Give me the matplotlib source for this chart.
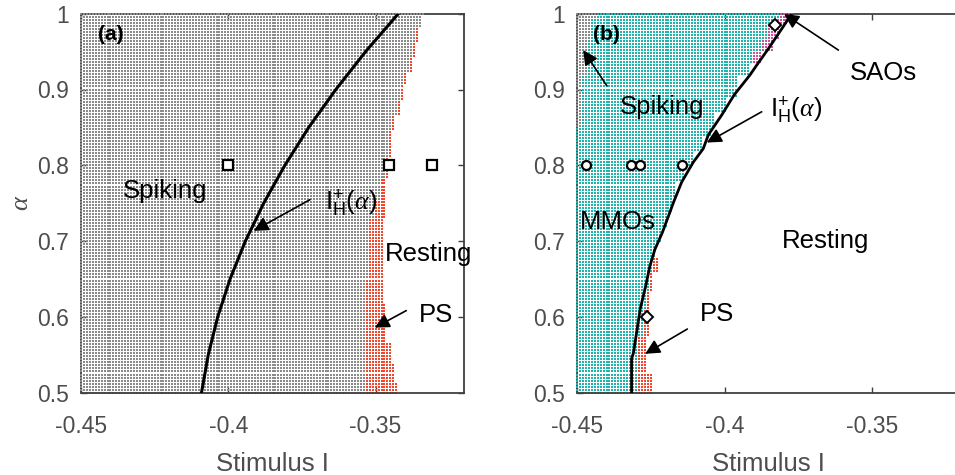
import numpy as np
import matplotlib
matplotlib.use('Agg')
import matplotlib.pyplot as plt

plt.rcParams['font.family'] = ['Liberation Sans', 'DejaVu Sans']
plt.rcParams['mathtext.fontset'] = 'custom'
plt.rcParams['mathtext.rm'] = 'Liberation Sans'
plt.rcParams['mathtext.it'] = 'Liberation Serif:italic'
plt.rcParams['mathtext.bf'] = 'Liberation Sans:bold'

# scan grid of the stimulus / alpha plane
stim_grid = np.round(np.arange(-0.45, -0.3195, 0.001), 4)
alpha_grid = np.linspace(0.5, 1.0, 126)

# panel (a): band lower edge in alpha, last spiking I, last PS I
a_band_alpha = [0.500, 0.515, 0.537, 0.566, 0.619, 0.649, 0.693, 0.729, 0.755, 0.782,
                0.812, 0.846, 0.868, 0.888, 0.908, 0.924, 0.944, 0.964, 0.981, 0.997]
a_spike_end = [-0.3540, -0.3540, -0.3540, -0.3540, -0.3540, -0.3527, -0.3521, -0.3508, -0.3490, -0.3470,
               -0.3455, -0.3442, -0.3428, -0.3415, -0.3401, -0.3389, -0.3375, -0.3362, -0.3348, -0.3336]
a_ps_end = [-0.3426, -0.3439, -0.3450, -0.3462, -0.3474, -0.3474, -0.3471, -0.3465, -0.3467, -0.3453,
            -0.3443, -0.3432, -0.3418, -0.3405, -0.3391, -0.3379, -0.3365, -0.3352, -0.3348, -0.3336]

# Hopf curve I_H^+(alpha), panel (a)
a_hopf_alpha = [0.50, 0.55, 0.60, 0.65, 0.70, 0.75, 0.80, 0.85, 0.90, 0.95, 1.00]
a_hopf_stim = [-0.4091, -0.4068, -0.4036, -0.3994, -0.3942, -0.3880, -0.3808, -0.3727, -0.3635, -0.3534, -0.3423]
a_square_stim = [-0.400, -0.3455, -0.331]
a_square_alpha = [0.8, 0.8, 0.8]

# panel (b): bands with last gray-spiking, MMO, PS and SAO stimulus values
nan = np.nan
b_band_alpha = [0.500, 0.525, 0.550, 0.575, 0.610, 0.636, 0.660, 0.680, 0.700, 0.720, 0.740, 0.760, 0.780,
                0.800, 0.820, 0.840, 0.850, 0.870, 0.890, 0.920, 0.935, 0.950, 0.965, 0.985, 0.995]
b_spike_end = [-0.46] * 16 + [-0.4490, -0.4490, -0.4484, -0.4467, -0.4467, -0.4467, -0.4456, -0.4456, -0.4439]
b_mmo_end = [-0.4292, -0.4292, -0.4292, -0.4280, -0.4269, -0.4260, -0.4241, -0.4236, -0.4211, -0.4195, -0.4180,
             -0.4163, -0.4140, -0.4110, -0.4075, -0.4050, -0.4035, -0.4000, -0.3960, -0.3920, -0.3908, -0.3874,
             -0.3853, -0.3829, -0.3818]
b_ps_end = [-0.4241, -0.4264, -0.4264, -0.4258, -0.4258, -0.4247, -0.4230] + [nan] * 18
b_sao_end = [nan] * 20 + [-0.3874, -0.3840, -0.3819, -0.3784, -0.3761]

b_hopf_alpha = [0.500, 0.545, 0.552, 0.579, 0.610, 0.641, 0.667, 0.689, 0.711, 0.733, 0.751, 0.778, 0.804,
                0.822, 0.840, 0.866, 0.893, 0.919, 0.932, 0.954, 0.980, 1.000]
b_hopf_stim = [-0.4315, -0.4315, -0.4309, -0.4298, -0.4286, -0.4267, -0.4253, -0.4236, -0.4211, -0.4190, -0.4173,
               -0.4145, -0.4106, -0.4072, -0.4055, -0.4010, -0.3967, -0.3914, -0.3891, -0.3851, -0.3806, -0.3772]
b_circle_stim = [-0.447, -0.4317, -0.4285, -0.4143]
b_circle_alpha = [0.8, 0.8, 0.8, 0.8]
b_diamond_stim = [-0.3829, -0.4264]
b_diamond_alpha = [0.985, 0.600]

xticks = [-0.45, -0.4, -0.35]
xtick_labels = ['-0.45', '-0.4', '-0.35']
yticks = [0.5, 0.6, 0.7, 0.8, 0.9, 1.0]
ytick_labels = ['0.5', '0.6', '0.7', '0.8', '0.9', '1']

GRAY = '#8a8a8a'
CYAN = '#1fb3ac'
RED = '#f2452c'
MAG = '#d24d9c'
AXC = '#404040'
LABC = '#4d4d4d'

II, AA = np.meshgrid(stim_grid, alpha_grid)


def band_values(bands, vals):
    k = np.searchsorted(np.array(bands), AA + 1e-9, side='right') - 1
    return np.array(vals, dtype=float)[k]


def dots(ax, mask, color):
    ax.scatter(II[mask], AA[mask], s=3.6, marker='s', c=color, linewidths=0, zorder=3, clip_on=False)


def style(ax):
    ax.set_xlim(-0.45, -0.32)
    ax.set_ylim(0.5, 1.0)
    ax.set_xticks(xticks)
    ax.set_xticklabels(xtick_labels)
    ax.set_yticks(yticks)
    ax.set_yticklabels(ytick_labels)
    ax.tick_params(direction='in', length=4, width=1, colors=AXC, labelcolor=LABC,
                   labelsize=16.5, top=True, right=True)
    ax.tick_params(axis='x', pad=16)
    ax.tick_params(axis='y', pad=9)
    for sp in ax.spines.values():
        sp.set_color(AXC)
        sp.set_linewidth(1.3)
    ax.spines['bottom'].set_zorder(4)
    ax.set_xlabel('Stimulus I', fontsize=18.5, color=LABC, labelpad=10)
    ax.set_facecolor('white')


def arrow(ax, tail, tip):
    ax.annotate('', xy=tip, xytext=tail, zorder=6,
                arrowprops=dict(arrowstyle='-|>', color='black', lw=1.2, mutation_scale=22,
                                shrinkA=0, shrinkB=0))


fig = plt.figure(figsize=(9.55, 4.75), dpi=100)
axa = fig.add_axes([81 / 955, 1 - 392.7 / 475, 383 / 955, 379 / 475])
axb = fig.add_axes([577 / 955, 1 - 392.7 / 475, 383.5 / 955, 379 / 475])

# ---- panel (a)
spk = II <= band_values(a_band_alpha, a_spike_end) + 1e-9
ps = (~spk) & (II <= band_values(a_band_alpha, a_ps_end) + 1e-9)
dots(axa, spk, GRAY)
dots(axa, ps, RED)
axa.plot(a_hopf_stim, a_hopf_alpha, color='black', lw=2.2, zorder=5)
axa.plot(a_square_stim, a_square_alpha, ls='none', marker='s', ms=6.5, mfc='white', mec='black', mew=1.6, zorder=6)
style(axa)
axa.set_ylabel(r'$\alpha$', fontsize=19, color=LABC)
axa.yaxis.set_label_coords(-0.125, 0.5)

axa.text(-0.4443, 0.965, '(a)', fontsize=15, fontweight='bold', ha='left', va='baseline', zorder=7)
axa.text(-0.4359, 0.757, 'Spiking', fontsize=18.5, ha='left', va='baseline', zorder=7)
axa.text(-0.3470, 0.6737, 'Resting', fontsize=18.5, ha='left', va='baseline', zorder=7)
axa.text(-0.3352, 0.5928, 'PS', fontsize=18.5, ha='left', va='baseline', zorder=7)
axa.text(-0.3672, 0.741, r'$\mathrm{I}_{\mathrm{H}}^{+}(\alpha)$', fontsize=18.5, ha='left', va='baseline', zorder=7)
arrow(axa, (-0.3723, 0.7546), (-0.3914, 0.7135))
arrow(axa, (-0.3396, 0.6083), (-0.3503, 0.5858))

# ---- panel (b)
gspk = II <= band_values(b_band_alpha, b_spike_end) + 1e-9
mmo_end = band_values(b_band_alpha, b_mmo_end)
mmo = (~gspk) & (II <= mmo_end + 1e-9)
bps = (II > mmo_end + 1e-9) & (II <= band_values(b_band_alpha, b_ps_end) + 1e-9)
sao = (II > mmo_end + 1e-9) & (II <= band_values(b_band_alpha, b_sao_end) + 1e-9)
dots(axb, gspk, GRAY)
dots(axb, mmo, CYAN)
dots(axb, bps, RED)
dots(axb, sao, MAG)
axb.plot(b_hopf_stim, b_hopf_alpha, color='black', lw=2.0, zorder=5)
axb.plot(b_circle_stim, b_circle_alpha, ls='none', marker='o', ms=6.5, mfc='white', mec='black', mew=1.6, zorder=6)
axb.plot(b_diamond_stim, b_diamond_alpha, ls='none', marker='D', ms=6, mfc='white', mec='black', mew=1.4, zorder=6)
style(axb)

axb.text(-0.4446, 0.965, '(b)', fontsize=15, fontweight='bold', ha='left', va='baseline', zorder=7)
axb.text(-0.4354, 0.8683, 'Spiking', fontsize=18.5, ha='left', va='baseline', zorder=7)
axb.text(-0.4490, 0.7158, 'MMOs', fontsize=18.5, ha='left', va='baseline', zorder=7)
axb.text(-0.3805, 0.6915, 'Resting', fontsize=18.5, ha='left', va='baseline', zorder=7)
axb.text(-0.4083, 0.5942, 'PS', fontsize=18.5, ha='left', va='baseline', zorder=7)
axb.text(-0.3575, 0.9125, 'SAOs', fontsize=18.5, ha='left', va='baseline', zorder=7)
axb.text(-0.3846, 0.8626, r'$\mathrm{I}_{\mathrm{H}}^{+}(\alpha)$', fontsize=18.5, ha='left', va='baseline', zorder=7)
arrow(axb, (-0.4399, 0.905), (-0.4479, 0.952))
arrow(axb, (-0.3874, 0.8706), (-0.4060, 0.830))
arrow(axb, (-0.4126, 0.584), (-0.4269, 0.5513))
arrow(axb, (-0.3614, 0.952), (-0.3798, 0.9996))

fig.savefig('out.png', dpi=100)
